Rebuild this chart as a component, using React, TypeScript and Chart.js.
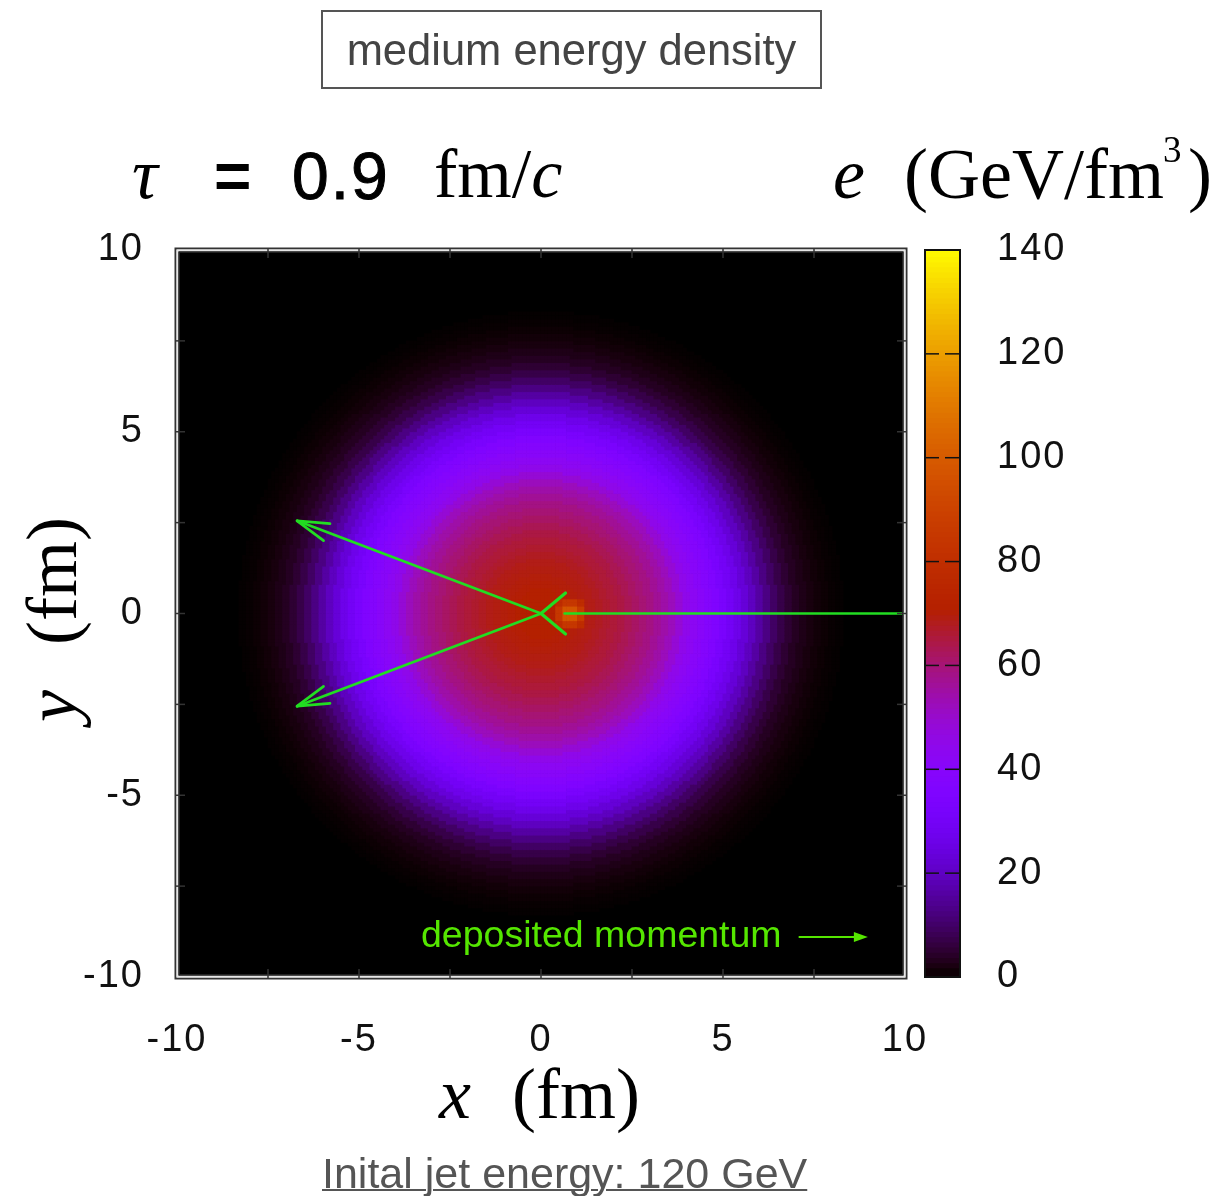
import React, { useEffect, useRef } from "react";
import { Chart, registerables } from "chart.js";
Chart.register(...registerables);

// ---------------- data ----------------
const xMin = -10;
const xMax = 10;
const yMin = -10;
const yMax = 10;
const ringWidth = 0.2; // fm, radial resolution of the profile below
const cellSize = 0.1; // fm, drawing cell
const gridCount = 200;
// energy density (GeV/fm^3) versus radius, one value per 0.2 fm ring
const radialProfile = [
  70, 70, 70, 70, 69.5, 69, 68.5, 68, 67, 66, 65, 64, 62.5, 61, 59.5, 58, 56, 54, 51.5, 48,
  44, 42, 40, 37.5, 35, 32, 29, 26, 22.5, 19, 15.5, 12, 9, 6.5, 4.5, 3, 2, 1.2, 0.7, 0.35,
  0.15, 0.05, 0,
];
// energy deposited by the jet near the centre (0.2 fm blocks)
const hotX = [0.5, 0.7, 0.9, 1.1];
const hotY = [0.3, 0.1, -0.1, -0.3];
const hotV = [
  [78, 84, 84, 78],
  [84, 97, 97, 86],
  [84, 97, 97, 86],
  [78, 84, 84, 78],
];
// colour bar
const colorMax = 140;
const colorTickStep = 20;
const colorLevels = Array.from({ length: 140 }, (_, i) => i);
// arrows (fm)
const jetShaftX = [10, 0.65];
const jetShaftY = [0, 0];
const jetTip = [0, 0];
const branchTailX = [0, 0];
const branchTailY = [0, 0];
const branchTipX = [-6.7, -6.7];
const branchTipY = [2.55, -2.55];
const legendArrowX = [7.1, 8.98];
const legendArrowY = [-8.9, -8.9];

// ---------------- styles ----------------
const W = 1215;
const H = 1196;
const SANS = '"Liberation Sans", Arial, Helvetica, sans-serif';
const SERIF = '"Liberation Serif", "Times New Roman", "DejaVu Serif", serif';
const ARROW_GREEN = "#22dd22";
const TEXT_GREEN = "#55e600";

function palette(v: number): string {
  const t = Math.min(1, Math.max(0, v / colorMax));
  const r = Math.sqrt(t);
  const g = t * t * t;
  const b = Math.max(0, Math.sin(2 * Math.PI * t));
  return `rgb(${Math.round(255 * r)},${Math.round(255 * g)},${Math.round(255 * b)})`;
}

function cellValue(x: number, y: number): number {
  const hi = hotX.findIndex((h) => Math.abs(h - x) < ringWidth / 2 + 1e-9);
  const hj = hotY.findIndex((h) => Math.abs(h - y) < ringWidth / 2 + 1e-9);
  if (hi >= 0 && hj >= 0) return hotV[hj][hi];
  const k = Math.round(Math.hypot(x, y) / ringWidth);
  return k < radialProfile.length ? radialProfile[k] : 0;
}

function buildCells() {
  const pts: { x: number; y: number; v: number }[] = [];
  for (let i = 0; i < gridCount; i++) {
    for (let j = 0; j < gridCount; j++) {
      const x = Math.round((xMin + cellSize * (i + 0.5)) * 100) / 100;
      const y = Math.round((yMin + cellSize * (j + 0.5)) * 100) / 100;
      const v = cellValue(x, y);
      if (v > 0) pts.push({ x, y, v });
    }
  }
  return pts;
}

function line(ctx: CanvasRenderingContext2D, a: number[], b: number[]) {
  ctx.beginPath();
  ctx.moveTo(a[0], a[1]);
  ctx.lineTo(b[0], b[1]);
  ctx.stroke();
}

function openHead(ctx: CanvasRenderingContext2D, tip: number[], from: number[], len: number, ang: number) {
  const dx = tip[0] - from[0];
  const dy = tip[1] - from[1];
  const d = Math.hypot(dx, dy) || 1;
  const ux = dx / d;
  const uy = dy / d;
  for (const s of [1, -1]) {
    const c = Math.cos(s * ang);
    const sn = Math.sin(s * ang);
    const rx = ux * c - uy * sn;
    const ry = ux * sn + uy * c;
    line(ctx, tip, [tip[0] - rx * len, tip[1] - ry * len]);
  }
}

const mainPlugin = {
  id: "mainDecor",
  beforeDraw(chart: any) {
    chart.ctx.letterSpacing = "2px";
  },
  beforeDatasetsDraw(chart: any) {
    const { ctx, chartArea: a } = chart;
    ctx.save();
    ctx.fillStyle = "#000";
    ctx.fillRect(a.left, a.top, a.right - a.left, a.bottom - a.top);
    ctx.restore();
  },
  afterDatasetsDraw(chart: any) {
    const { ctx, chartArea: a } = chart;
    const xs = chart.scales.x;
    const ys = chart.scales.y;
    const P = (x: number, y: number) => [xs.getPixelForValue(x), ys.getPixelForValue(y)];
    ctx.save();
    ctx.beginPath();
    ctx.rect(a.left, a.top, a.right - a.left, a.bottom - a.top);
    ctx.clip();
    ctx.strokeStyle = ARROW_GREEN;
    ctx.lineWidth = 2.7;
    ctx.lineCap = "round";
    // jet
    line(ctx, P(jetShaftX[0], jetShaftY[0]), P(jetShaftX[1], jetShaftY[1]));
    ctx.lineWidth = 3.2;
    openHead(ctx, P(jetTip[0], jetTip[1]), P(jetShaftX[1], jetShaftY[1]), 32, (40 * Math.PI) / 180);
    ctx.lineWidth = 2.7;
    // deflected branches
    for (let i = 0; i < branchTipX.length; i++) {
      const t0 = P(branchTailX[i], branchTailY[i]);
      const t1 = P(branchTipX[i], branchTipY[i]);
      line(ctx, t0, t1);
      openHead(ctx, t1, t0, 33, (16 * Math.PI) / 180);
    }
    // legend arrow
    ctx.strokeStyle = TEXT_GREEN;
    ctx.fillStyle = TEXT_GREEN;
    ctx.lineWidth = 2;
    const l0 = P(legendArrowX[0], legendArrowY[0]);
    const l1 = P(legendArrowX[1], legendArrowY[1]);
    line(ctx, l0, [l1[0] - 10, l1[1]]);
    ctx.beginPath();
    ctx.moveTo(l1[0], l1[1]);
    ctx.lineTo(l1[0] - 14, l1[1] - 5);
    ctx.lineTo(l1[0] - 14, l1[1] + 5);
    ctx.closePath();
    ctx.fill();
    ctx.restore();

    // frame
    ctx.save();
    const w = a.right - a.left;
    const h = a.bottom - a.top;
    ctx.lineWidth = 2;
    ctx.strokeStyle = "#333";
    ctx.strokeRect(a.left - 1.5, a.top - 1.5, w + 3, h + 3);
    ctx.strokeStyle = "#e6e6e6";
    ctx.strokeRect(a.left + 0.5, a.top + 0.5, w - 1, h - 1);
    ctx.lineWidth = 1.5;
    ctx.strokeStyle = "#222";
    ctx.strokeRect(a.left + 2.25, a.top + 2.25, w - 4.5, h - 4.5);
    // tick marks (inward)
    ctx.strokeStyle = "#333";
    ctx.lineWidth = 1.5;
    const tl = 8;
    xs.ticks.forEach((t: any) => {
      const px = xs.getPixelForValue(t.value);
      if (px <= a.left + 1 || px >= a.right - 1) return;
      line(ctx, [px, a.bottom + 1], [px, a.bottom - tl]);
      line(ctx, [px, a.top - 1], [px, a.top + tl]);
    });
    ys.ticks.forEach((t: any) => {
      const py = ys.getPixelForValue(t.value);
      if (py <= a.top + 1 || py >= a.bottom - 1) return;
      line(ctx, [a.left - 1, py], [a.left + tl, py]);
      line(ctx, [a.right + 1, py], [a.right - tl, py]);
    });
    ctx.restore();
  },
};

const colorbarPlugin = {
  id: "colorbarDecor",
  beforeDraw(chart: any) {
    chart.ctx.letterSpacing = "2px";
  },
  afterDatasetsDraw(chart: any) {
    const { ctx, chartArea: a } = chart;
    const ys = chart.scales.y;
    ctx.save();
    ctx.strokeStyle = "#111";
    ctx.lineWidth = 1.5;
    ys.ticks.forEach((t: any) => {
      const py = ys.getPixelForValue(t.value);
      if (py <= a.top + 1 || py >= a.bottom - 1) return;
      line(ctx, [a.left, py], [a.left + 14, py]);
      line(ctx, [a.right, py], [a.right - 15, py]);
    });
    ctx.lineWidth = 2;
    ctx.strokeRect(a.left, a.top, a.right - a.left, a.bottom - a.top);
    ctx.restore();
  },
};

function zeroPad(s: any) {
  s.paddingLeft = 0;
  s.paddingRight = 0;
  s.paddingTop = 0;
  s.paddingBottom = 0;
}

const tickFont = { family: SANS, size: 38 };

function mainConfig(): any {
  return {
    type: "scatter",
    data: {
      datasets: [
        {
          data: buildCells(),
          parsing: false,
          normalized: true,
          pointStyle: "rect",
          pointBorderWidth: 0,
          pointRadius: (c: any) => {
            const s = c.chart.scales.x;
            const px = Math.abs(s.getPixelForValue(cellSize) - s.getPixelForValue(0));
            return (px + 0.7) / Math.SQRT2;
          },
          pointBackgroundColor: (c: any) => palette(c.raw ? c.raw.v : 0),
        },
      ],
    },
    options: {
      animation: false,
      responsive: false,
      devicePixelRatio: 1,
      events: [],
      layout: { padding: { left: 0, top: 250, right: W - 905, bottom: 0 } },
      plugins: { legend: { display: false }, tooltip: { enabled: false }, title: { display: false } },
      scales: {
        x: {
          type: "linear",
          min: xMin,
          max: xMax,
          afterFit: (s: any) => {
            s.height = H - 977;
            zeroPad(s);
          },
          grid: { display: false, drawTicks: false },
          border: { display: false },
          ticks: {
            stepSize: 2.5,
            autoSkip: false,
            maxRotation: 0,
            padding: 41,
            color: "#111",
            font: tickFont,
            callback: (v: number) => (v % 5 === 0 ? String(v) : ""),
          },
        },
        y: {
          type: "linear",
          min: yMin,
          max: yMax,
          afterFit: (s: any) => {
            s.width = 177;
            zeroPad(s);
          },
          grid: { display: false, drawTicks: false },
          border: { display: false },
          ticks: {
            stepSize: 2.5,
            autoSkip: false,
            padding: 33,
            color: "#111",
            font: tickFont,
            callback: (v: number) => (v % 5 === 0 ? String(v) : ""),
          },
        },
      },
    },
    plugins: [mainPlugin],
  };
}

function colorbarConfig(): any {
  return {
    type: "bar",
    data: {
      labels: ["e"],
      datasets: colorLevels.map((lv) => ({
        data: [[lv, lv + 1.6]],
        backgroundColor: palette(lv + 0.5),
        borderWidth: 0,
        grouped: false,
        barPercentage: 1,
        categoryPercentage: 1,
      })),
    },
    options: {
      animation: false,
      responsive: false,
      devicePixelRatio: 1,
      events: [],
      layout: { padding: { left: 925, top: 250, right: 0, bottom: H - 977 } },
      plugins: { legend: { display: false }, tooltip: { enabled: false } },
      scales: {
        x: { type: "category", display: false },
        y: {
          position: "right",
          min: 0,
          max: colorMax,
          afterFit: (s: any) => {
            s.width = W - 960;
            zeroPad(s);
          },
          grid: { display: false, drawTicks: false },
          border: { display: false },
          ticks: { stepSize: colorTickStep, padding: 37, color: "#111", font: tickFont },
        },
      },
    },
    plugins: [colorbarPlugin],
  };
}

function Txt(props: { x: number; base: number; size: number; family: string; style?: any; children: any }) {
  const { x, base, size, family, style, children } = props;
  return (
    <div
      style={{
        position: "absolute",
        left: x,
        top: base - size * 0.84,
        fontSize: size,
        lineHeight: `${size}px`,
        fontFamily: family,
        whiteSpace: "pre",
        color: "#000",
        ...style,
      }}
    >
      {children}
    </div>
  );
}

export default function App() {
  const mainRef = useRef<HTMLCanvasElement>(null);
  const barRef = useRef<HTMLCanvasElement>(null);
  useEffect(() => {
    const c1 = new Chart(mainRef.current as HTMLCanvasElement, mainConfig());
    const c2 = new Chart(barRef.current as HTMLCanvasElement, colorbarConfig());
    return () => {
      c1.destroy();
      c2.destroy();
    };
  }, []);
  const canvasStyle: any = { position: "absolute", left: 0, top: 0, width: W, height: H };
  return (
    <div style={{ position: "absolute", left: 0, top: 0, width: W, height: H, overflow: "hidden", background: "#fff" }}>
      <canvas ref={mainRef} width={W} height={H} style={canvasStyle} />
      <canvas ref={barRef} width={W} height={H} style={canvasStyle} />

      {/* header box */}
      <div
        style={{
          position: "absolute",
          left: 321,
          top: 10,
          width: 501,
          height: 79,
          boxSizing: "border-box",
          border: "2px solid #555",
        }}
      />
      <Txt x={321} base={65.5} size={43.5} family={SANS} style={{ width: 501, textAlign: "center", color: "#444" }}>
        medium energy density
      </Txt>

      {/* tau line */}
      <Txt x={132} base={198} size={72} family={SERIF} style={{ fontStyle: "italic" }}>
        τ
      </Txt>
      <Txt x={214} base={198} size={64} family={SANS} style={{ fontWeight: 700 }}>
        =
      </Txt>
      <Txt x={292} base={198} size={66} family={SANS} style={{ letterSpacing: "2px", WebkitTextStroke: "1px #000" }}>
        0.9
      </Txt>
      <Txt x={434} base={198} size={70} family={SERIF}>
        fm/<i>c</i>
      </Txt>

      {/* colour bar title */}
      <Txt x={833} base={198} size={72} family={SERIF} style={{ fontStyle: "italic" }}>
        e
      </Txt>
      <Txt x={904} base={198} size={72} family={SERIF}>
        (GeV/fm
      </Txt>
      <Txt x={1163} base={162} size={37} family={SERIF}>
        3
      </Txt>
      <Txt x={1188} base={198} size={72} family={SERIF}>
        )
      </Txt>

      {/* axis titles */}
      <Txt x={439} base={1118} size={72} family={SERIF} style={{ fontStyle: "italic" }}>
        x
      </Txt>
      <Txt x={512} base={1118} size={72} family={SERIF}>
        (fm)
      </Txt>
      <div
        style={{
          position: "absolute",
          left: 16,
          top: 722,
          transformOrigin: "0 0",
          transform: "rotate(-90deg)",
          fontFamily: SERIF,
          fontSize: 72,
          lineHeight: "72px",
          whiteSpace: "pre",
          color: "#000",
        }}
      >
        <i>y</i>
        <span style={{ marginLeft: 45 }}>(fm)</span>
      </div>

      {/* legend text inside plot */}
      <Txt x={421} base={947} size={37.5} family={SANS} style={{ color: TEXT_GREEN }}>
        deposited momentum
      </Txt>

      {/* caption */}
      <Txt
        x={322}
        base={1188}
        size={43}
        family={SANS}
        style={{ color: "#555", textDecoration: "underline", textDecorationThickness: "2px" }}
      >
        Inital jet energy: 120 GeV
      </Txt>
    </div>
  );
}
